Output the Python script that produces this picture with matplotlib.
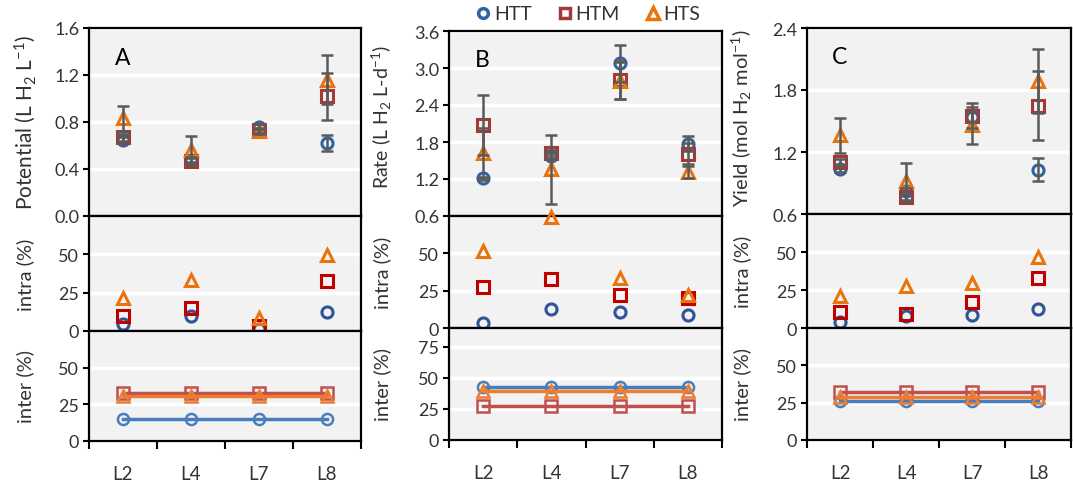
import matplotlib
matplotlib.use("Agg")
import matplotlib.pyplot as plt
from matplotlib.lines import Line2D

plt.rcParams['font.family'] = ['Lato', 'DejaVu Sans']
plt.rcParams['mathtext.fontset'] = 'custom'
plt.rcParams['mathtext.rm'] = 'Lato'
plt.rcParams['mathtext.it'] = 'Lato:italic'
plt.rcParams['text.color'] = '#333333'
plt.rcParams['ytick.labelcolor'] = '#333333'
plt.rcParams['xtick.labelcolor'] = '#333333'

cats = ['L2', 'L4', 'L7', 'L8']
groups = ['HTT', 'HTM', 'HTS']

# top panels: mean values and error bars
pot_htt = [0.65, 0.48, 0.76, 0.62]
pot_htm = [0.67, 0.47, 0.73, 1.02]
pot_hts = [0.83, 0.56, 0.72, 1.16]
pot_htt_err = [0.02, 0.02, 0.02, 0.07]
pot_htm_err = [0.03, 0.02, 0.02, 0.20]
pot_hts_err = [0.105, 0.12, 0.02, 0.21]

rate_htt = [1.21, 1.57, 3.08, 1.77]
rate_htm = [2.08, 1.62, 2.81, 1.61]
rate_hts = [1.62, 1.36, 2.79, 1.31]
rate_htt_err = [0.02, 0.05, 0.30, 0.12]
rate_htm_err = [0.49, 0.05, 0.31, 0.17]
rate_hts_err = [0.40, 0.56, 0.30, 0.10]

yld_htt = [1.04, 0.82, 1.54, 1.03]
yld_htm = [1.10, 0.76, 1.55, 1.65]
yld_hts = [1.36, 0.915, 1.46, 1.89]
yld_htt_err = [0.03, 0.03, 0.05, 0.11]
yld_htm_err = [0.03, 0.03, 0.12, 0.33]
yld_hts_err = [0.17, 0.18, 0.18, 0.31]

# intra (%)
intra_a_htt = [4.3, 9.7, 1.0, 12.4]
intra_a_htm = [9.7, 15.0, 3.2, 32.6]
intra_a_hts = [21.5, 33.3, 8.6, 49.4]
intra_b_htt = [3.3, 12.4, 10.9, 8.7]
intra_b_htm = [27.7, 32.8, 22.3, 20.0]
intra_b_hts = [51.7, 74.5, 33.2, 22.3]
intra_c_htt = [4.0, 8.0, 8.4, 12.7]
intra_c_htm = [10.7, 9.0, 17.0, 32.6]
intra_c_hts = [20.8, 27.7, 29.4, 47.0]

# inter (%)
inter_a = [15.0, 32.5, 30.5]
inter_b = [42.5, 27.7, 39.0]
inter_c = [26.0, 32.0, 28.5]

top_col = {'HTT': '#2e64a6', 'HTM': '#a33a3a', 'HTS': '#e9730c'}
mid_col = {'HTT': '#2f5597', 'HTM': '#c00000', 'HTS': '#e9730c'}
line_col = {'HTT': '#4a7ebb', 'HTM': '#c0504d', 'HTS': '#ed7d31'}
mk = {'HTT': 'o', 'HTM': 's', 'HTS': '^'}
ms = {'HTT': 8, 'HTM': 8, 'HTS': 9}

W, H = 1073, 489
fig = plt.figure(figsize=(W / 100, H / 100), dpi=100)


def rect(x0, x1, y0, y1):
    return [x0 / W, 1 - y1 / H, (x1 - x0) / W, (y1 - y0) / H]


def style_ax(ax, ylim, yticks, fmt, bottom=False):
    ax.set_facecolor('#f2f2f2')
    ax.set_xlim(-0.5, 3.5)
    ax.set_ylim(*ylim)
    ax.set_yticks(yticks)
    ax.set_yticklabels([fmt.format(t) for t in yticks], fontsize=13)
    ax.grid(axis='y', color='white', lw=2.5)
    ax.set_axisbelow(True)
    for s in ax.spines.values():
        s.set_color('black')
        s.set_linewidth(1.6)
    ax.tick_params(axis='y', length=4, width=1.5, pad=3)
    if bottom:
        ax.set_xticks(range(4))
        ax.set_xticklabels(cats, fontsize=13.5)
        ax.set_xticks([-0.5, 0.5, 1.5, 2.5, 3.5], minor=True)
        ax.tick_params(axis='x', which='major', length=0, pad=17)
        ax.tick_params(axis='x', which='minor', length=6, width=1.5)
    else:
        ax.set_xticks([])


panels = [
    dict(x0=89, x1=361, ytop=29, y1=217, y2=332, y3=442, letter='A',
         top=(pot_htt, pot_htm, pot_hts), err=(pot_htt_err, pot_htm_err, pot_hts_err),
         tlim=(0, 1.6), tticks=[0, 0.4, 0.8, 1.2, 1.6],
         intra=(intra_a_htt, intra_a_htm, intra_a_hts), inter=inter_a,
         ilim=(0, 75), iticks=[0, 25, 50],
         lab='Potential (L H$_2$ L$^{-1}$)', labx=25, laby=123, lfs=15),
    dict(x0=449, x1=722, ytop=32, y1=217, y2=329, y3=441, letter='B',
         top=(rate_htt, rate_htm, rate_hts), err=(rate_htt_err, rate_htm_err, rate_hts_err),
         tlim=(0.6, 3.6), tticks=[0.6, 1.2, 1.8, 2.4, 3.0, 3.6],
         intra=(intra_b_htt, intra_b_htm, intra_b_hts), inter=inter_b,
         ilim=(0, 90), iticks=[0, 25, 50, 75],
         lab='Rate (L H$_2$ L-d$^{-1}$)', labx=382, laby=117, lfs=14),
    dict(x0=807, x1=1071, ytop=29, y1=215, y2=329, y3=441, letter='C',
         top=(yld_htt, yld_htm, yld_hts), err=(yld_htt_err, yld_htm_err, yld_hts_err),
         tlim=(0.6, 2.4), tticks=[0.6, 1.2, 1.8, 2.4],
         intra=(intra_c_htt, intra_c_htm, intra_c_hts), inter=inter_c,
         ilim=(0, 75), iticks=[0, 25, 50],
         lab='Yield (mol H$_2$ mol$^{-1}$)', labx=742, laby=118, lfs=14.5),
]

x = list(range(4))
for p in panels:
    ax1 = fig.add_axes(rect(p['x0'], p['x1'], p['ytop'], p['y1']))
    ax2 = fig.add_axes(rect(p['x0'], p['x1'], p['y1'], p['y2']))
    ax3 = fig.add_axes(rect(p['x0'], p['x1'], p['y2'], p['y3']))
    style_ax(ax1, p['tlim'], p['tticks'], '{:.1f}')
    style_ax(ax2, (0, 75), [0, 25, 50], '{:.0f}')
    style_ax(ax3, p['ilim'], p['iticks'], '{:.0f}', bottom=True)

    for g, vals, err in zip(groups, p['top'], p['err']):
        ax1.plot(x, vals, ls='none', marker=mk[g], ms=ms[g], mfc='none',
                 mec=top_col[g], mew=2.2, zorder=3)
        ax1.errorbar(x, vals, yerr=err, fmt='none', ecolor='#5a5a5a',
                     elinewidth=1.8, capsize=4.5, capthick=1.8, zorder=4)
    for g, vals in zip(groups, p['intra']):
        ax2.plot(x, vals, ls='none', marker=mk[g], ms=ms[g], mfc='none',
                 mec=mid_col[g], mew=2.2, clip_on=False, zorder=3)
    for g, v in zip(groups, p['inter']):
        ax3.plot(x, [v] * 4, color=line_col[g], lw=2.5, marker=mk[g], ms=ms[g],
                 mfc='none', mec=line_col[g], mew=1.8, zorder=3)

    ax1.text(0.095, 0.845, p['letter'], transform=ax1.transAxes, fontsize=16.5,
             ha='left', va='center', color='black')
    ym = lambda a, b: 1 - (a + b) / 2 / H
    fig.text(p['labx'] / W, 1 - p['laby'] / H, p['lab'], rotation=90,
             ha='center', va='center', fontsize=p['lfs'])
    fig.text(p['labx'] / W, ym(p['y1'], p['y2']), 'intra (%)', rotation=90,
             ha='center', va='center', fontsize=14.5)
    fig.text(p['labx'] / W, ym(p['y2'], p['y3']), 'inter (%)', rotation=90,
             ha='center', va='center', fontsize=14.5)

handles = [Line2D([], [], ls='none', marker=mk[g], ms=ms[g] - 1, mfc='none',
                  mec=top_col[g], mew=2.5) for g in groups]
fig.legend(handles, groups, loc='center', bbox_to_anchor=(587 / W, 1 - 15 / H),
           ncol=3, frameon=False, fontsize=14, handletextpad=0.05,
           columnspacing=1.2, handlelength=1.0, borderaxespad=0)

fig.savefig('out.png', dpi=100)
